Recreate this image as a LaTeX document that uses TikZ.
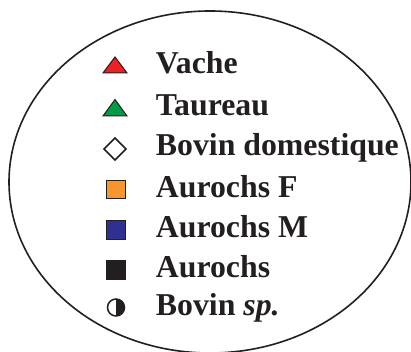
\documentclass[tikz,border=0pt]{standalone}
\usepackage{fontspec}
\setmainfont{Liberation Serif}
\definecolor{cred}{HTML}{ED2024}
\definecolor{cgreen}{HTML}{009A49}
\definecolor{corange}{HTML}{F7962E}
\definecolor{cblue}{HTML}{2E3192}
\definecolor{cblack}{HTML}{231F20}
\begin{document}
\begin{tikzpicture}[x=1pt,y=-1pt,
  lbl/.style={anchor=base west,inner sep=0pt,font=\fontsize{31.8}{38}\selectfont\bfseries,text=cblack},
  sym/.style={draw=cblack,line width=1pt}]
\useasboundingbox (0,0) rectangle (411,352);
\draw[cblack,line width=1.6pt] (210,182) ellipse [x radius=201, y radius=171];
% symbols
\filldraw[sym,fill=cred] (103,73) -- (127,73) -- (115,57) -- cycle;
\filldraw[sym,fill=cgreen] (103,116) -- (127,116) -- (115,99.5) -- cycle;
\draw[sym,line width=1.5pt,fill=white] (115,138) -- (126,149) -- (115,160) -- (104,149) -- cycle;
\filldraw[sym,fill=corange] (106.5,180.5) rectangle (125.5,199);
\filldraw[sym,fill=cblue] (106.5,220.5) rectangle (125.5,239);
\filldraw[sym,fill=cblack] (106.5,260.5) rectangle (125,279);
\fill[cblack] (116,299) arc[start angle=-90,end angle=90,radius=8.5] -- cycle;
\draw[sym,line width=1.5pt] (116,307.5) circle[radius=8.5];
% labels
\node[lbl] (l1) at (155.7,74) {Vache};
\node[lbl] (l2) at (155.7,115.5) {Taureau};
\node[lbl] (l3) at (155.7,156) {Bovin domestique};
\node[lbl] (l4) at (155.7,197) {Aurochs F};
\node[lbl] (l5) at (155.7,237) {Aurochs M};
\node[lbl] (l6) at (155.7,277) {Aurochs};
\node[lbl] (l7) at (155.7,315) {Bovin \textit{sp.}};
\end{tikzpicture}
\end{document}
